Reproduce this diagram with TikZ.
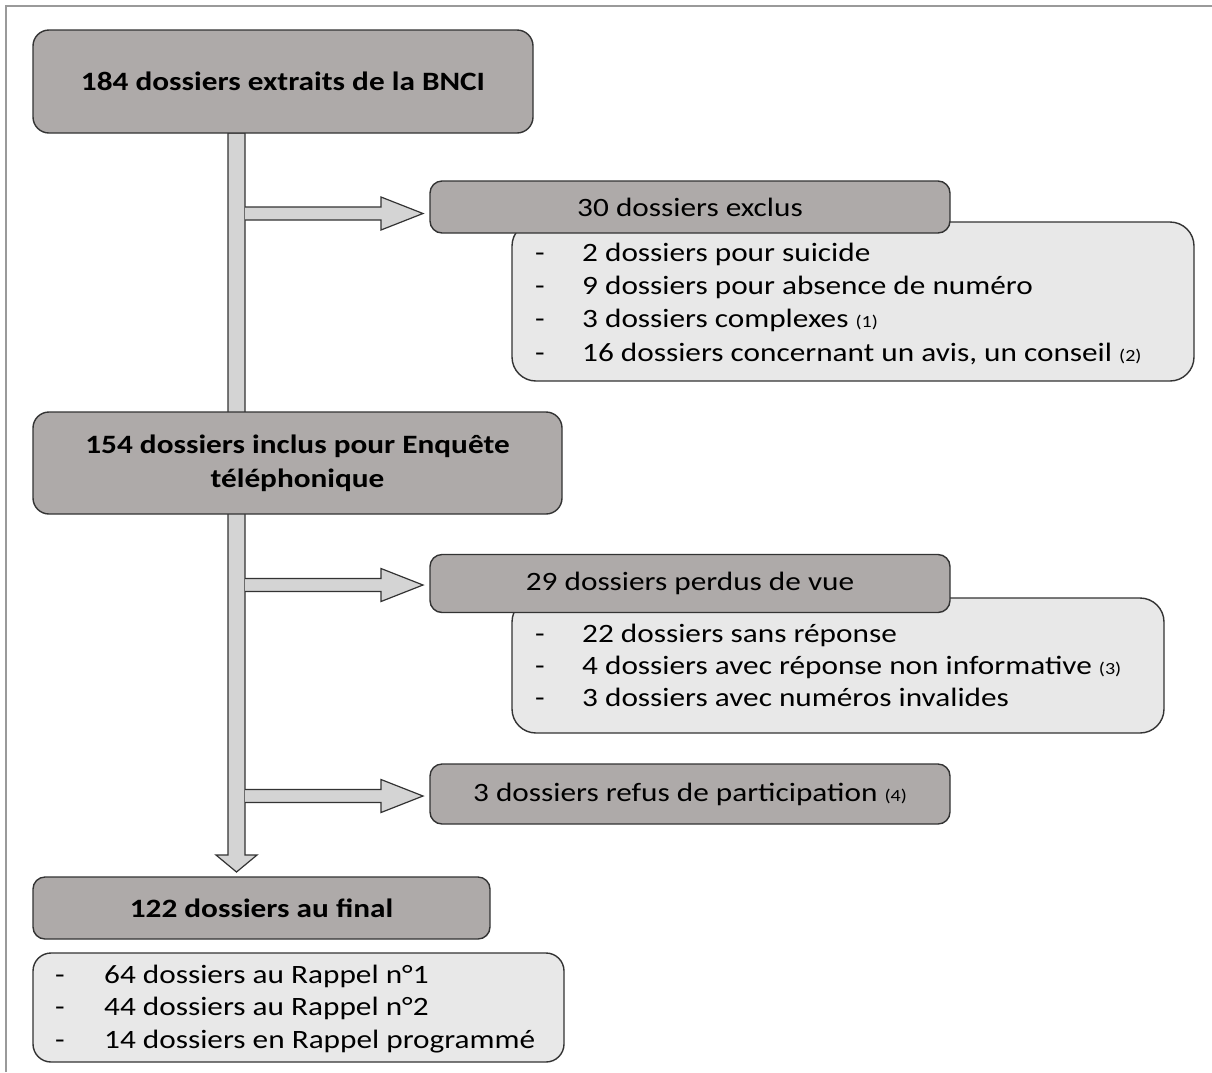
\documentclass[tikz,border=0pt]{standalone}
\usepackage{fontspec}
\setmainfont{Carlito}[FakeStretch=1.18]
\definecolor{darkbox}{HTML}{AEAAA9}
\definecolor{lightbox}{HTML}{E8E8E8}
\definecolor{barfill}{HTML}{D4D4D4}
\definecolor{edge}{HTML}{333333}
\definecolor{frame}{HTML}{9A9A9A}
\newcommand{\fn}[1]{{\fontsize{17}{17}\selectfont(#1)}}
\newcommand{\dsh}{\makebox[47pt][l]{-}}
\begin{document}
\begin{tikzpicture}[x=1pt,y=-1pt,
  hdr/.style={draw=edge, line width=1.4pt, fill=darkbox, rounded corners=16pt, inner sep=0pt, align=center,
     font=\fontsize{26.5}{34}\selectfont},
  bhdr/.style={hdr, font=\bfseries\fontsize{26.5}{34}\selectfont},
  sub/.style={draw=edge, line width=1.4pt, fill=lightbox, rounded corners=24pt, inner sep=0pt},
  lst/.style={anchor=base west, inner sep=0pt, font=\fontsize{26.5}{34}\selectfont},
  blockarrow/.style={draw=edge, line width=1.2pt, fill=barfill, line join=miter}
]
\useasboundingbox (0,0) rectangle (1212,1072);
% frame
\draw[frame, line width=2.5pt] (6,1072) -- (6,6) -- (1212,6);

% vertical bar with final arrowhead
\draw[blockarrow] (228,133) -- (228,855) -- (216,855) -- (236.5,872) -- (257,855) -- (245,855) -- (245,133) -- cycle;

% horizontal block arrows
\foreach \yy in {213.5, 585, 796}{
  \draw[blockarrow] (245,\yy-6.5) -- (381,\yy-6.5) -- (381,\yy-16.5) -- (423,\yy) -- (381,\yy+16.5) -- (381,\yy+6.5) -- (245,\yy+6.5);
}

% main boxes
\node[bhdr, minimum width=500, minimum height=103] (b1) at (283,81.5) {184 dossiers extraits de la BNCI};
\node[bhdr, minimum width=529, minimum height=102] (b2) at (297.5,463) {154 dossiers inclus pour Enquête\\téléphonique};
\node[bhdr, minimum width=457, minimum height=62, rounded corners=12pt] (b4) at (261.5,908) {122 dossiers au final};

% sub box 1
\node[sub, minimum width=682, minimum height=159] (s1) at (853,301.5) {};
\node[hdr, minimum width=520, minimum height=52, rounded corners=12pt] (e1) at (690,207) {30 dossiers exclus};
\node[lst] (t11) at (535,261) {\dsh 2 dossiers pour suicide};
\node[lst] (t12) at (535,294) {\dsh 9 dossiers pour absence de numéro};
\node[lst] (t13) at (535,327.5) {\dsh 3 dossiers complexes \fn{1}};
\node[lst] (t14) at (535,361) {\dsh 16 dossiers concernant un avis, un conseil \fn{2}};

% sub box 2
\node[sub, minimum width=652, minimum height=135] (s2) at (838,665.5) {};
\node[hdr, minimum width=520, minimum height=58, rounded corners=12pt] (e2) at (690,583.5) {29 dossiers perdus de vue};
\node[lst] (t21) at (535,642) {\dsh 22 dossiers sans réponse};
\node[lst] (t22) at (535,674) {\dsh 4 dossiers avec réponse non informative \fn{3}};
\node[lst] (t23) at (535,706) {\dsh 3 dossiers avec numéros invalides};

% refus
\node[hdr, minimum width=520, minimum height=60, rounded corners=12pt] (e3) at (690,794) {3 dossiers refus de participation \fn{4}};

% final sub box
\node[sub, minimum width=531, minimum height=109, rounded corners=18pt] (s3) at (298.5,1007.5) {};
\node[lst] (t31) at (55,983) {\makebox[49pt][l]{-}64 dossiers au Rappel n°1};
\node[lst] (t32) at (55,1015.5) {\makebox[49pt][l]{-}44 dossiers au Rappel n°2};
\node[lst] (t33) at (55,1048) {\makebox[49pt][l]{-}14 dossiers en Rappel programmé};
\end{tikzpicture}
\end{document}
